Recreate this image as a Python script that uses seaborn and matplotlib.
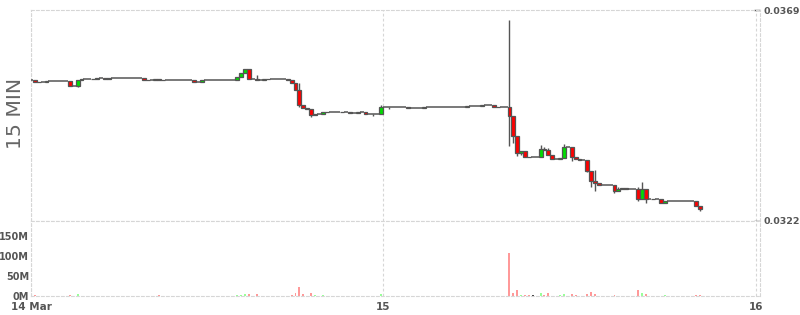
import numpy as np
import pandas as pd
import matplotlib
matplotlib.use("Agg")
import matplotlib.pyplot as plt
import seaborn as sns

# ---------------- data ----------------
start_time = "2024-03-14 01:15"   # first 15-minute bar
open_first = 0.035334

closes = [
    0.035334, 0.035303, 0.035297, 0.035297, 0.035312, 0.035312, 0.035312, 0.035312, 0.035312, 0.035312,
    0.035207, 0.035207, 0.035348, 0.035357, 0.035357, 0.035357, 0.035370, 0.035379, 0.035379, 0.035363,
    0.035379, 0.035379, 0.035379, 0.035379, 0.035379, 0.035379, 0.035379, 0.035379, 0.035379, 0.035341,
    0.035334, 0.035334, 0.035370, 0.035348, 0.035334, 0.035334, 0.035334, 0.035334, 0.035334, 0.035334,
    0.035334, 0.035334, 0.035297, 0.035297, 0.035334, 0.035334, 0.035334, 0.035334, 0.035334, 0.035334,
    0.035334, 0.035334, 0.035334, 0.035401, 0.035504, 0.035593, 0.035370, 0.035370, 0.035341, 0.035341,
    0.035357, 0.035363, 0.035363, 0.035363, 0.035363, 0.035363, 0.035341, 0.035268, 0.035118, 0.034778,
    0.034718, 0.034702, 0.034555, 0.034584, 0.034584, 0.034629, 0.034635, 0.034635, 0.034635, 0.034635,
    0.034629, 0.034629, 0.034613, 0.034613, 0.034629, 0.034629, 0.034584, 0.034584, 0.034584, 0.034584,
    0.034733, 0.034733, 0.034733, 0.034733, 0.034733, 0.034733, 0.034733, 0.034718, 0.034718, 0.034718,
    0.034718, 0.034733, 0.034733, 0.034733, 0.034733, 0.034733, 0.034733, 0.034733, 0.034733, 0.034733,
    0.034733, 0.034733, 0.034755, 0.034755, 0.034755, 0.034755, 0.034778, 0.034778, 0.034778, 0.034747,
    0.034733, 0.034733, 0.034733, 0.034539, 0.034094, 0.033722, 0.033753, 0.033633, 0.033620, 0.033620,
    0.033620, 0.033798, 0.033782, 0.033678, 0.033575, 0.033575, 0.033604, 0.033842, 0.033842, 0.033620,
    0.033575, 0.033566, 0.033566, 0.033321, 0.033099, 0.033041, 0.033009, 0.033009, 0.033009, 0.033009,
    0.032862, 0.032920, 0.032936, 0.032907, 0.032907, 0.032907, 0.032684, 0.032907, 0.032684, 0.032684,
    0.032698, 0.032698, 0.032609, 0.032640, 0.032640, 0.032640, 0.032640, 0.032640, 0.032640, 0.032640,
    0.032640, 0.032535, 0.032462,
]

# wicks (bar position -> extreme price)
high_bars = [58, 69, 90, 123, 131, 132, 133, 137, 145, 151, 156, 157]
high_vals = [0.035446, 0.035281, 0.034791, 0.036677, 0.033900, 0.033856, 0.033827, 0.033916,
             0.033337, 0.032958, 0.032965, 0.033070]
low_bars = [12, 69, 72, 88, 92, 123, 124, 125, 126, 139, 143, 144, 145, 150, 156, 158, 172]
low_vals = [0.035192, 0.034747, 0.034510, 0.034539, 0.034702, 0.033878, 0.033931, 0.033649,
            0.033665, 0.033544, 0.033292, 0.032952, 0.032876, 0.032825, 0.032646, 0.032609, 0.032417]

# volume in millions
volumes = [
    0, 2.5, 0, 0, 0, 0, 0, 0, 0, 0,
    2.5, 0, 6, 0, 0, 0, 1, 0, 0, 1,
    1, 0, 0, 0, 0.5, 0, 0, 0, 0.5, 1,
    0, 0, 1, 3, 0, 0, 0.5, 0, 0, 0,
    0, 0, 0, 0, 0, 0, 0, 0, 0.5, 0,
    0, 0, 0.5, 2.5, 2.5, 6, 6, 0, 6, 0,
    1, 0, 0, 0, 0, 0, 0, 3, 8, 22,
    4, 0, 7, 3, 0, 2, 0, 0, 0, 0,
    0, 0, 0.5, 0, 0.5, 0, 1, 0, 0.5, 0,
    6, 0, 0.5, 0, 0, 0, 0.5, 1, 0, 0,
    0.5, 0.5, 0, 0, 0, 0, 0, 0, 0, 0,
    0, 0, 0, 0, 0, 0, 0.5, 0, 0, 1,
    0, 0.5, 0, 108, 8, 16, 3, 3, 1.5, 1.5,
    1, 8, 3, 8, 1, 0, 1.5, 6, 0, 6,
    3, 0, 0, 6, 11, 6, 0, 0, 0, 0,
    3, 1, 1, 1, 0, 0, 16, 8, 6, 1,
    1, 1, 1, 1.5, 1, 0, 0, 0, 0, 0,
    0, 2, 2,
]

x_tick_labels = ["14 Mar", "15", "16"]
price_ticks = [0.0322, 0.0369]
price_tick_labels = ["0.0322", "0.0369"]
volume_ticks = [0, 50, 100, 150]
volume_tick_labels = ["0M", "50M", "100M", "150M"]
panel_label = "15 MIN"

# ---------------- styling ----------------
sns.set_style("white")
plt.rcParams["font.family"] = ["DejaVu Sans"]

UP = "#00dd00"
DOWN = "#ff0000"
EDGE = "#555555"
GRID = "#d6d6d6"
DASH = (0, (2.5, 2))
TXT = "#555555"
vol_palette = {"up": "#99ff99", "down": "#ff9999", "flat": "#444444"}

# ---------------- derived frame ----------------
closes = np.array(closes)
opens = np.concatenate([[open_first], closes[:-1]])
times = pd.date_range(start_time, periods=len(closes), freq="15min")
day0 = pd.Timestamp(times[0].date())
left_h = ((times - day0) / pd.Timedelta(hours=1)).to_numpy()
center_h = left_h + 0.125
direction = np.where(closes > opens, "up", np.where(closes < opens, "down", "flat"))

df = pd.DataFrame({"hour": center_h, "volume": volumes, "dir": direction})

# ---------------- figure ----------------
fig = plt.figure(figsize=(8, 3.15), dpi=100)
ax = fig.add_axes([31 / 800, 94 / 315, 729 / 800, 211 / 315])
axv = fig.add_axes([31 / 800, 19 / 315, 729 / 800, 75 / 315])

xmin, xmax = 1.38, 48.225

# wicks
body_top = np.maximum(opens, closes)
body_bot = np.minimum(opens, closes)
hb = np.array(high_bars)
lb = np.array(low_bars)
ax.vlines(center_h[hb], body_top[hb], high_vals, color=EDGE, lw=1.0, zorder=2)
ax.vlines(center_h[lb], low_vals, body_bot[lb], color=EDGE, lw=1.0, zorder=2)

# bodies
m = direction != "flat"
ax.bar(left_h[m], (closes - opens)[m], bottom=opens[m], width=0.25, align="edge",
       color=np.where(direction[m] == "up", UP, DOWN), edgecolor=EDGE, linewidth=0.9, zorder=3)
f = direction == "flat"
ax.hlines(opens[f], left_h[f], left_h[f] + 0.25, color=EDGE, lw=1.1, zorder=3)

# volume
sns.barplot(data=df, x="hour", y="volume", hue="dir", palette=vol_palette, native_scale=True,
            width=0.5, dodge=False, errorbar=None, legend=False, saturation=1, linewidth=0, ax=axv)

# ---------------- axes cosmetics ----------------
for a in (ax, axv):
    a.set_xlim(xmin, xmax)
    a.set_xlabel("")
    a.set_ylabel("")
    a.set_facecolor("white")
    for s in a.spines.values():
        s.set_color(GRID)
        s.set_linestyle(DASH)
        s.set_linewidth(0.8)
    a.set_xticks([xmin, 24, 48])
    a.grid(axis="x", color=GRID, linestyle=DASH, linewidth=0.8)
    a.grid(axis="y", visible=False)
    a.set_axisbelow(True)

ax.set_ylim(price_ticks[0], price_ticks[1])
ax.yaxis.tick_right()
ax.set_yticks(price_ticks)
ax.set_yticklabels(price_tick_labels)
ax.tick_params(axis="y", direction="in", length=4, width=1, color=EDGE, pad=2.5,
               labelsize=6.8, labelcolor=TXT)
ax.tick_params(axis="x", length=0, labelbottom=False)
for t in ax.get_yticklabels():
    t.set_fontweight("bold")

axv.set_ylim(0, 187.5)
axv.set_yticks(volume_ticks)
axv.set_yticklabels(volume_tick_labels)
axv.tick_params(axis="y", direction="in", length=3, width=1, color=EDGE, pad=1.5,
                labelsize=7, labelcolor=TXT)
axv.set_xticklabels(x_tick_labels)
axv.tick_params(axis="x", direction="out", length=2, width=1, color=EDGE, pad=2.5,
                labelsize=7.5, labelcolor=TXT)
for t in axv.get_yticklabels() + axv.get_xticklabels():
    t.set_fontweight("bold")

fig.text(15.5 / 800, 1 - 113 / 315, panel_label, rotation=90, ha="center", va="center",
         fontsize=14.7, color="#666666")

fig.savefig("out.png", dpi=100)
